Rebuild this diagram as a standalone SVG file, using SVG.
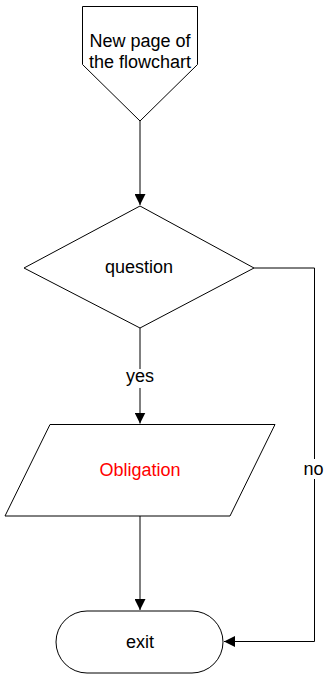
<svg xmlns="http://www.w3.org/2000/svg" width="324" height="674" viewBox="0 0 324 674">
  <defs>
    <marker id="arrow" viewBox="0 0 11 11" refX="11" refY="5.5" markerWidth="11" markerHeight="11" markerUnits="userSpaceOnUse" orient="auto">
      <path d="M0,0 L11,5.5 L0,11 Z" fill="#000"/>
    </marker>
    <style>
      .shape { fill: #fff; stroke: #000; stroke-width: 1; }
      .edge { fill: none; stroke: #000; stroke-width: 1; }
      text { font-family: "Liberation Sans", Arial, sans-serif; font-size: 18px; fill: #000; text-anchor: middle; }
      .red { fill: #ff0000; }
    </style>
  </defs>
  <rect width="324" height="674" fill="#fff"/>

  <!-- connectors -->
  <g id="edges">
    <path class="edge" d="M140,121 L140,205" marker-end="url(#arrow)"/>
    <path class="edge" d="M140,328 L140,423.5" marker-end="url(#arrow)"/>
    <path class="edge" d="M140,516 L140,610" marker-end="url(#arrow)"/>
    <path class="edge" d="M254,268 L314.5,268 L314.5,641.5 L224,641.5" marker-end="url(#arrow)"/>
    <!-- edge labels -->
    <rect x="123" y="369" width="34" height="19" fill="#fff"/>
    <text x="140" y="382">yes</text>
    <rect x="302" y="459" width="25" height="20" fill="#fff"/>
    <text x="313.5" y="475">no</text>
  </g>

  <g id="offpage">
    <path class="shape" d="M82.5,6.5 L197.5,6.5 L197.5,64.5 L140,121 L82.5,64.5 Z"/>
    <text x="140" y="47">New page of</text>
    <text x="140" y="68">the flowchart</text>
  </g>

  <g id="decision">
    <path class="shape" d="M140,206 L254,268 L140,328 L24,268 Z"/>
    <text x="139" y="273">question</text>
  </g>

  <g id="obligation">
    <path class="shape" d="M50,424.5 L275,424.5 L230,516 L5,516 Z"/>
    <text class="red" x="140" y="476">Obligation</text>
  </g>

  <g id="exit">
    <rect class="shape" x="56" y="611" width="167" height="62" rx="31" ry="31"/>
    <text x="140" y="648">exit</text>
  </g>
</svg>
